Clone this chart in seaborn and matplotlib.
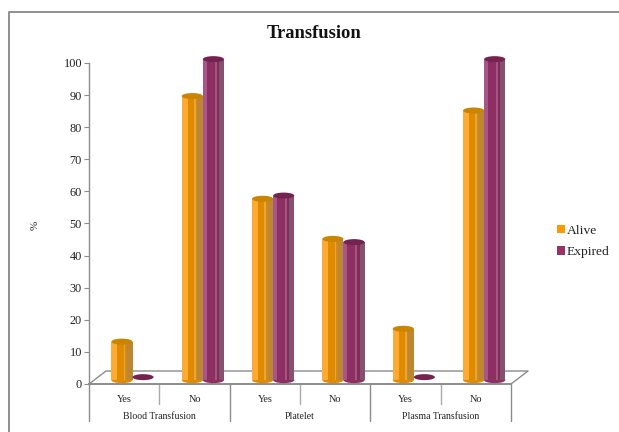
import matplotlib
matplotlib.use("Agg")
import matplotlib.pyplot as plt
import pandas as pd
import seaborn as sns
from matplotlib.lines import Line2D
from matplotlib.patches import Ellipse, Patch, Rectangle

# Survey results, percent of patients in each outcome group
groups = ["Blood Transfusion", "Platelet", "Plasma Transfusion"]
answers = ["Yes", "No"]
alive = [12, 88.5, 56.5, 44, 16, 84]
expired = [0, 100, 57.5, 43, 0, 100]
y_ticks = list(range(0, 101, 10))

W, H = 619, 432
PX_PER_CAT = 70.33
PX_PER_UNIT = 3.21
GRAY = "#8c8c8c"
TEXT = "#222222"

sns.set_theme(style="white")
plt.rcParams["font.family"] = ["Liberation Serif", "DejaVu Serif"]

categories = [f"{g}|{a}" for g in groups for a in answers]
frame = pd.DataFrame({
    "category": categories * 2,
    "outcome": ["Alive"] * 6 + ["Expired"] * 6,
    "percent": alive + expired,
})

fig = plt.figure(figsize=(W / 100, H / 100), dpi=100, facecolor="white")
left_px, right_px, bottom_px, top_px = 89, 528, 384, 50
ax = fig.add_axes([left_px / W, 1 - bottom_px / H,
                   (right_px - left_px) / W, (bottom_px - top_px) / H])
ax.patch.set_alpha(0)

# Floor baseline sits a little above the value axis origin, as in a 3-D plot
base = 1.2
sns.barplot(data=frame, x="category", y="percent", hue="outcome",
            hue_order=["Alive", "Expired"], order=categories,
            palette=["#e08a00", "#8e2f63"], width=0.6, gap=0, saturation=1,
            bottom=base, legend=False, ax=ax, zorder=3, linewidth=0)

x0 = -(132.5 - left_px) / PX_PER_CAT
ax.set_xlim(x0, x0 + (right_px - left_px) / PX_PER_CAT)
ax.set_ylim(0, (bottom_px - top_px) / PX_PER_UNIT)
x_end = x0 + (511 - left_px) / PX_PER_CAT

# Vertical bands that give each bar its cylinder shading
styles = {
    0: dict(bands=[(0.00, 0.28, "#ffaa33"), (0.28, 0.58, "#e08a00"),
                   (0.58, 0.66, "#eaa53a"), (0.66, 0.74, "#cf8a1a"),
                   (0.74, 1.00, "#bd8632")],
            top="#c98400", bottom="#e08a00"),
    1: dict(bands=[(0.00, 0.18, "#a8568a"), (0.18, 0.56, "#8e2f63"),
                   (0.56, 0.66, "#a35680"), (0.66, 0.76, "#7f2c5b"),
                   (0.76, 1.00, "#86506f")],
            top="#74224f", bottom="#8e2f63"),
}
ell_h = 6 / PX_PER_UNIT
for idx, container in enumerate(ax.containers):
    style = styles[idx]
    for bar in container:
        x, w = bar.get_x(), bar.get_width()
        y, h = bar.get_y(), bar.get_height()
        z = 3 + idx
        if h > 0:
            ax.add_patch(Ellipse((x + w / 2, y), w, ell_h, fc=style["bottom"],
                                 ec="none", zorder=z))
            for start, stop, colour in style["bands"]:
                ax.add_patch(Rectangle((x + start * w, y), (stop - start) * w, h,
                                       fc=colour, ec="none", zorder=z + 0.1))
            cap_y = y + h
        else:
            # An empty bar shows only its lid, resting just above the floor
            cap_y = y + ell_h / 2
        ax.add_patch(Ellipse((x + w / 2, cap_y), w, ell_h, fc=style["top"],
                             ec="none", zorder=z + 0.2, clip_on=False))

# Axes: value spine, category axis and the floor of the plot
for side in ("top", "right"):
    ax.spines[side].set_visible(False)
ax.spines["left"].set_color(GRAY)
ax.spines["left"].set_linewidth(1.0)
ax.spines["left"].set_bounds(0, 100)
ax.spines["bottom"].set_color(GRAY)
ax.spines["bottom"].set_linewidth(1.4)
ax.spines["bottom"].set_bounds(x0, x_end)

ax.set_yticks(y_ticks, labels=[str(v) for v in y_ticks])
ax.tick_params(axis="y", length=3.6, width=0.8, color=GRAY, pad=1.5,
               labelsize=8.8, labelcolor=TEXT, left=True)
centers = [x0 + (i + 0.5) * (x_end - x0) / 6 for i in range(6)]
ax.set_xticks(centers, labels=answers * 3)
ax.tick_params(axis="x", length=0, pad=8.2, labelsize=7.4, labelcolor=TEXT)
ax.set_xlabel("")
ax.set_ylabel("")

depth_x = 17 / PX_PER_CAT
depth_y = 13 / PX_PER_UNIT
ax.plot([x0, x0 + depth_x, x_end + depth_x, x_end], [0, depth_y, depth_y, 0],
        color=GRAY, lw=1.0, zorder=1, clip_on=False)

short_drop = -(404 - bottom_px) / PX_PER_UNIT
long_drop = -(421 - bottom_px) / PX_PER_UNIT
for i in range(7):
    drop = long_drop if i % 2 == 0 else short_drop
    xpos = x0 + i * (x_end - x0) / 6
    ax.plot([xpos, xpos], [0, drop], color=GRAY if i % 2 == 0 else "#aaaaaa",
            lw=1.0, clip_on=False)
for i, name in enumerate(groups):
    ax.text(x0 + (2 * i + 1) * (x_end - x0) / 6, -(416.5 - bottom_px) / PX_PER_UNIT,
            name, ha="center", va="center", fontsize=7, color=TEXT)

# Chart title, rotated unit label and the outer frame lines
fig.text(314.5 / W, 1 - 33 / H, "Transfusion", ha="center", va="center",
         fontsize=13.3, fontweight="bold", color="#111111")
fig.text(35 / W, 1 - 225 / H, "%", rotation=90, ha="center", va="center",
         fontsize=8, color=TEXT)
fig.add_artist(Line2D([8.5 / W, 8.5 / W, 1], [0, 1 - 12 / H, 1 - 12 / H],
                      color="#8f8f8f", lw=1.4))

handles = [Patch(fc="#ff9900", ec="none", label="Alive"),
           Patch(fc="#993366", ec="none", label="Expired")]
fig.legend(handles=handles, loc="center left", bbox_to_anchor=(544.5 / W, 1 - 241.5 / H),
           frameon=False, fontsize=9.7, labelcolor=TEXT, handlelength=0.6,
           handleheight=0.6, handletextpad=0.15, labelspacing=0.72)

fig.savefig("out.png", dpi=100)
